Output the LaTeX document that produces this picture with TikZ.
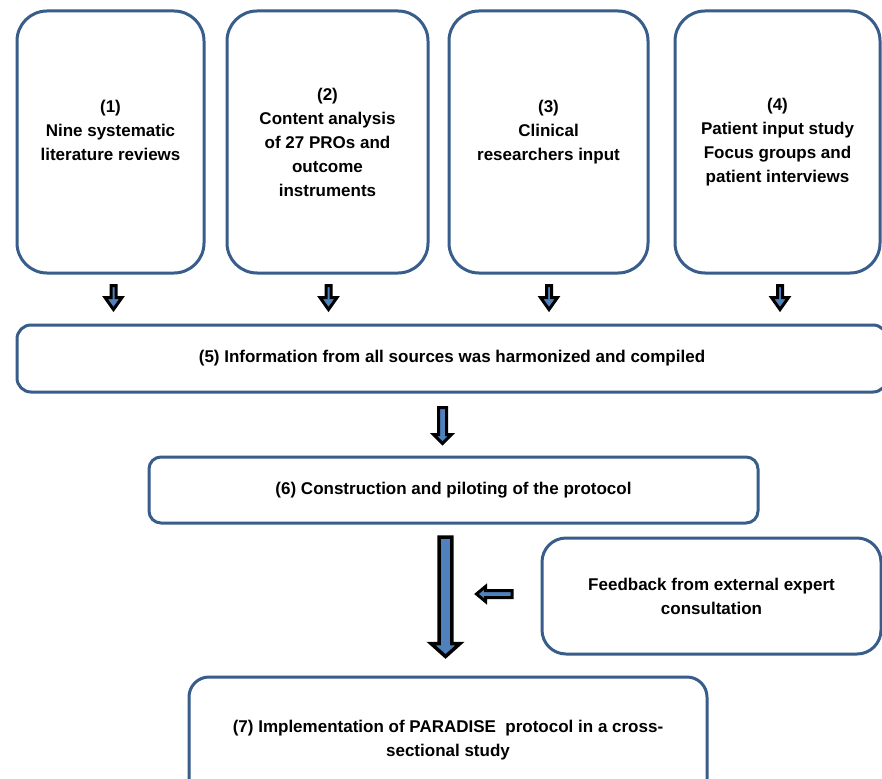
\documentclass[tikz,border=0pt]{standalone}
\usepackage{fontspec}
\setmainfont{Liberation Sans}
\usetikzlibrary{calc}
\definecolor{boxblue}{RGB}{56,93,138}
\definecolor{arrowblue}{RGB}{79,129,189}
\tikzset{
  box/.style={draw=boxblue, line width=3pt, fill=white, align=center,
    font=\bfseries\fontsize{17}{24}\selectfont, inner sep=0pt},
  blockarr/.style={draw=black, fill=arrowblue, line width=3pt, line join=miter}
}
% #1 start, #2 tip, #3 shaft half width, #4 head half width, #5 head length
\newcommand\blockarrow[6][]{%
  \draw[blockarr,#1] let \p1=($(#3)-(#2)$), \n1={atan2(\y1,\x1)}, \n2={veclen(\x1,\y1)} in
    ($(#2)+(\n1+90:#4)$) -- ($(#2)+(\n1:{\n2*1pt-#6})+(\n1+90:#4)$)
    -- ($(#2)+(\n1:{\n2*1pt-#6})+(\n1+90:#5)$) -- (#3)
    -- ($(#2)+(\n1:{\n2*1pt-#6})+(\n1-90:#5)$)
    -- ($(#2)+(\n1:{\n2*1pt-#6})+(\n1-90:#4)$)
    -- ($(#2)+(\n1-90:#4)$) -- cycle;}
\begin{document}
\begin{tikzpicture}[x=1pt,y=1pt]
\useasboundingbox (0,0) rectangle (882,-778);
\clip (0,0) rectangle (882,-778);
\fill[white] (0,0) rectangle (882,-778);
% top boxes
\node[box, rounded corners=30pt, minimum width=187pt, minimum height=262pt] (b1) at (110.5,-142)
  {(1)\\Nine systematic\\literature reviews\\\mbox{}};
\node[box, rounded corners=30pt, minimum width=201pt, minimum height=262pt] (b2) at (327.5,-142)
  {(2)\\Content analysis\\of 27 PROs and\\outcome\\instruments};
\node[box, rounded corners=30pt, minimum width=199pt, minimum height=262pt] (b3) at (548.5,-142)
  {(3)\\Clinical\\researchers input\\\mbox{}};
\node[box, rounded corners=30pt, minimum width=205pt, minimum height=262pt] (b4) at (777.5,-142)
  {(4)\\Patient input study\\Focus groups and\\patient interviews};
% wide boxes
\node[box, rounded corners=14pt, minimum width=870pt, minimum height=67pt] (b5) at (452,-358.5)
  {(5) Information from all sources was harmonized and compiled};
\node[box, rounded corners=12pt, minimum width=609pt, minimum height=66pt] (b6) at (453.5,-490)
  {(6) Construction and piloting of the protocol};
\node[box, rounded corners=24pt, minimum width=339pt, minimum height=116pt] (fb) at (711.5,-596)
  {Feedback from external expert\\consultation};
\node[box, rounded corners=20pt, minimum width=518pt, minimum height=126pt] (b7) at (448,-740)
  {(7) Implementation of PARADISE\ \ protocol in a cross-\\sectional study};
% arrow end points
\coordinate (a1s) at ($(b1.south)+(3,-11)$);
\coordinate (a1e) at ($(a1s|-b5.north)+(0,14)$);
\coordinate (a2s) at ($(b2.south)+(1,-11)$);
\coordinate (a2e) at ($(a2s|-b5.north)+(0,14)$);
\coordinate (a3s) at ($(b3.south)+(0.5,-11)$);
\coordinate (a3e) at ($(a3s|-b5.north)+(0,14)$);
\coordinate (a4s) at ($(b4.south)+(2.5,-11)$);
\coordinate (a4e) at ($(a4s|-b5.north)+(0,14)$);
\coordinate (a5s) at ($(b5.south)+(-9.5,-14)$);
\coordinate (a5e) at ($(a5s|-b6.north)+(0,12)$);
\coordinate (a6s) at ($(b6.south)+(-8,-12.5)$);
\coordinate (a6e) at ($(a6s|-b7.north)+(0,19)$);
\coordinate (a7s) at ($(fb.west)+(-28.5,2)$);
\coordinate (a7e) at ($(fb.west)+(-64,2)$);
% block arrows
\blockarrow{a1s}{a1e}{2.5pt}{8.5pt}{12pt}
\blockarrow{a2s}{a2e}{2.5pt}{8.5pt}{12pt}
\blockarrow{a3s}{a3e}{2.5pt}{8.5pt}{12pt}
\blockarrow{a4s}{a4e}{2.5pt}{8.5pt}{12pt}
\blockarrow{a5s}{a5e}{4pt}{9pt}{9pt}
\blockarrow[line width=3.5pt]{a6s}{a6e}{6.3pt}{14.5pt}{13pt}
\blockarrow{a7s}{a7e}{3.5pt}{7.5pt}{9pt}
\end{tikzpicture}
\end{document}
